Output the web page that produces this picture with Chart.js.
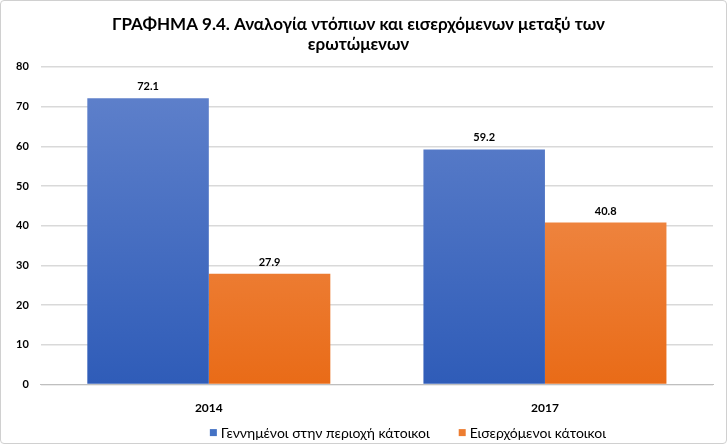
<!DOCTYPE html>
<html><head><meta charset="utf-8">
<script src="https://cdn.jsdelivr.net/npm/chart.js@4.4.0/dist/chart.umd.min.js"></script>
<style>
html,body{margin:0;padding:0;background:#fff;}
#wrap{position:absolute;left:0;top:0;width:725px;height:442px;border:1px solid #d0d0d0;border-radius:4px;overflow:hidden;}
</style></head><body>
<div id="wrap"><canvas id="c" width="725" height="442"></canvas></div>
<script>
const categories = ['2014', '2017'];
const seriesNames = ['Γεννημένοι στην περιοχή κάτοικοι', 'Εισερχόμενοι κάτοικοι'];
const natives = [72.1, 59.2];
const incomers = [27.9, 40.8];
const yTicks = [0, 10, 20, 30, 40, 50, 60, 70, 80];
const titleLines = ['ΓΡΑΦΗΜΑ 9.4. Αναλογία ντόπιων και εισερχόμενων μεταξύ των', 'ερωτώμενων'];
const legendColors = ['#4472c4', '#ed7d31'];

const FONT = "Lato, 'Open Sans', sans-serif";

function grad(ctx, chartArea, top, bottom) {
  const g = ctx.createLinearGradient(0, chartArea.top, 0, chartArea.bottom);
  g.addColorStop(0, top);
  g.addColorStop(1, bottom);
  return g;
}

const labelPlugin = {
  id: 'vals',
  afterDatasetsDraw(chart) {
    const ctx = chart.ctx;
    ctx.save();
    ctx.font = "bold 11px " + FONT;
    ctx.fillStyle = '#000';
    ctx.textAlign = 'center';
    ctx.textBaseline = 'bottom';
    chart.data.datasets.forEach((ds, i) => {
      chart.getDatasetMeta(i).data.forEach((bar, j) => {
        ctx.fillText(ds.data[j].toFixed(1), bar.x, bar.y - 6);
      });
    });
    ctx.restore();
  }
};

// bottom legend drawn below the category labels
const legendPlugin = {
  id: 'bottomLegend',
  afterDraw(chart) {
    const ctx = chart.ctx;
    const area = chart.chartArea;
    ctx.save();
    ctx.font = "14px " + FONT;
    ctx.textBaseline = 'middle';
    ctx.textAlign = 'left';
    const box = 7, gapText = 4, gapItem = 29;
    const widths = chart.data.datasets.map(ds => ctx.measureText(ds.label).width);
    const total = widths.reduce((s, w) => s + box + gapText + w, 0) + gapItem * (widths.length - 1);
    let x = (area.left + area.right) / 2 + 31 - total / 2;
    const y = area.bottom + 48;
    chart.data.datasets.forEach((ds, i) => {
      ctx.fillStyle = legendColors[i];
      ctx.fillRect(x, y - box / 2, box, box);
      ctx.fillStyle = '#000';
      ctx.fillText(ds.label, x + box + gapText, y + 1);
      x += box + gapText + widths[i] + gapItem;
    });
    ctx.restore();
  }
};

new Chart(document.getElementById('c'), {
  type: 'bar',
  data: {
    labels: categories,
    datasets: [
      { label: seriesNames[0], data: natives,
        backgroundColor: (c) => { const a = c.chart.chartArea; if (!a) return legendColors[0]; return grad(c.chart.ctx, a, '#6283cc', '#2f5cb8'); } },
      { label: seriesNames[1], data: incomers,
        backgroundColor: (c) => { const a = c.chart.chartArea; if (!a) return legendColors[1]; return grad(c.chart.ctx, a, '#f39a62', '#e96b17'); } }
    ]
  },
  options: {
    responsive: false,
    animation: false,
    devicePixelRatio: 1,
    layout: { padding: { left: 3, right: 13, top: 0, bottom: 20 } },
    datasets: { bar: { categoryPercentage: 0.723, barPercentage: 1.0 } },
    scales: {
      x: {
        grid: { display: false },
        border: { color: '#bfbfbf' },
        ticks: { color: '#000', font: { family: FONT, size: 12, weight: 'bold' }, padding: 8 }
      },
      y: {
        min: 0, max: 80,
        afterBuildTicks: (ax) => { ax.ticks = yTicks.map(v => ({ value: v })); },
        grid: { color: '#d9d9d9', lineWidth: 1.5, drawTicks: false, tickLength: 0 },
        border: { display: false },
        ticks: { color: '#000', font: { family: FONT, size: 11, weight: 'bold' }, padding: 12 }
      }
    },
    plugins: {
      title: {
        display: true, text: titleLines, color: '#000',
        font: { family: FONT, size: 17, weight: 'bold' },
        padding: { top: 13, bottom: 12 }, lineHeight: 1.45
      },
      legend: { display: false },
      tooltip: { enabled: false }
    }
  },
  plugins: [labelPlugin, legendPlugin]
});
</script>
</body></html>
